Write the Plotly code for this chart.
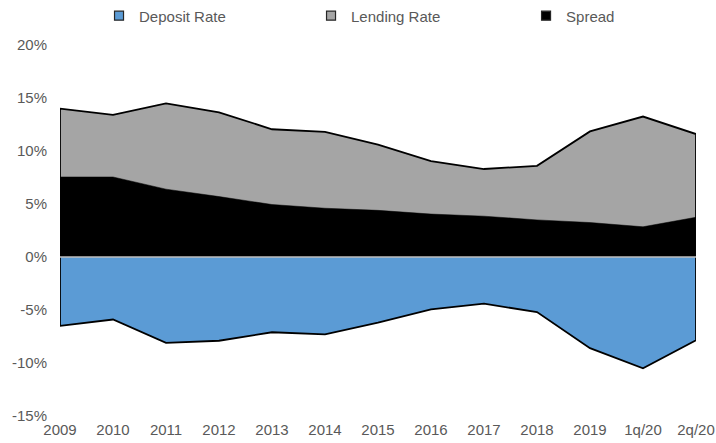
import plotly.graph_objects as go

periods = ["2009", "2010", "2011", "2012", "2013", "2014", "2015",
           "2016", "2017", "2018", "2019", "1q/20", "2q/20"]
lending_rate = [14.0, 13.4, 14.5, 13.65, 12.05, 11.8, 10.6, 9.05, 8.3, 8.6, 11.85, 13.25, 11.6]
spread = [7.55, 7.55, 6.4, 5.7, 4.95, 4.6, 4.4, 4.05, 3.85, 3.5, 3.25, 2.85, 3.75]
deposit_rate = [-6.5, -5.9, -8.1, -7.9, -7.1, -7.3, -6.2, -4.95, -4.4, -5.2, -8.6, -10.5, -7.85]

y_ticks = [-15, -10, -5, 0, 5, 10, 15, 20]
y_labels = ["-15%", "-10%", "-5%", "0%", "5%", "10%", "15%", "20%"]

BLUE = "#5B9BD5"
GREY = "#A5A5A5"
BLACK = "#000000"
TEXT = "#595959"


def closed_area(values):
    # polygon down to zero at both ends, so the outline has vertical edges
    xs = [periods[0]] + periods + [periods[-1]]
    ys = [0] + list(values) + [0]
    return xs, ys


fig = go.Figure()

x, y = closed_area(lending_rate)
fig.add_trace(go.Scatter(x=x, y=y, mode="lines", fill="toself", fillcolor=GREY,
                         line=dict(color=BLACK, width=1.8), showlegend=False,
                         hoverinfo="skip"))
x, y = closed_area(spread)
fig.add_trace(go.Scatter(x=x, y=y, mode="lines", fill="toself", fillcolor=BLACK,
                         line=dict(color=BLACK, width=0.5), showlegend=False,
                         hoverinfo="skip"))
x, y = closed_area(deposit_rate)
fig.add_trace(go.Scatter(x=x, y=y, mode="lines", fill="toself", fillcolor=BLUE,
                         line=dict(color=BLACK, width=1.8), showlegend=False,
                         hoverinfo="skip"))

# legend entries as small squares, one legend each so they can sit apart
legend_items = [("Deposit Rate", BLUE, "legend", 0.1383),
                ("Lending Rate", GREY, "legend2", 0.4344),
                ("Spread", BLACK, "legend3", 0.7347)]
legend_layout = {}
for name, color, leg, lx in legend_items:
    fig.add_trace(go.Scatter(
        x=[None], y=[None], mode="markers", name=name, legend=leg,
        marker=dict(symbol="square", size=9, color=color,
                    line=dict(color="#262626", width=1.2)),
    ))
    legend_layout[leg] = dict(orientation="h", xref="container", yref="container",
                              x=lx, xanchor="left", y=0.964, yanchor="middle",
                              itemwidth=30, font=dict(size=15, color=TEXT),
                              bgcolor="rgba(0,0,0,0)")

# horizontal axis line at zero, drawn over the areas
fig.add_shape(type="line", xref="paper", x0=0, x1=1, yref="y", y0=0, y1=0,
              line=dict(color="#BFBFBF", width=1.5), layer="above")

fig.update_layout(
    width=716, height=443,
    margin=dict(t=45, b=27, l=60, r=20, autoexpand=False),
    plot_bgcolor="white",
    paper_bgcolor="white",
    font=dict(family="Liberation Sans, Arial, sans-serif", size=15, color=TEXT),
    showlegend=True,
    **legend_layout,
)
fig.update_xaxes(type="category", categoryorder="array", categoryarray=periods,
                 range=[0, len(periods) - 1], showgrid=False, zeroline=False,
                 showline=False, ticks="", ticklabelstandoff=3, tickfont=dict(size=15))
fig.update_yaxes(range=[-15, 20], tickvals=y_ticks, ticktext=y_labels,
                 showgrid=False, zeroline=False, showline=False, ticks="",
                 ticklabelstandoff=12, tickfont=dict(size=15))

fig.write_html("out.html", config={"displayModeBar": False},
               post_script="document.body.style.margin='0px';")
